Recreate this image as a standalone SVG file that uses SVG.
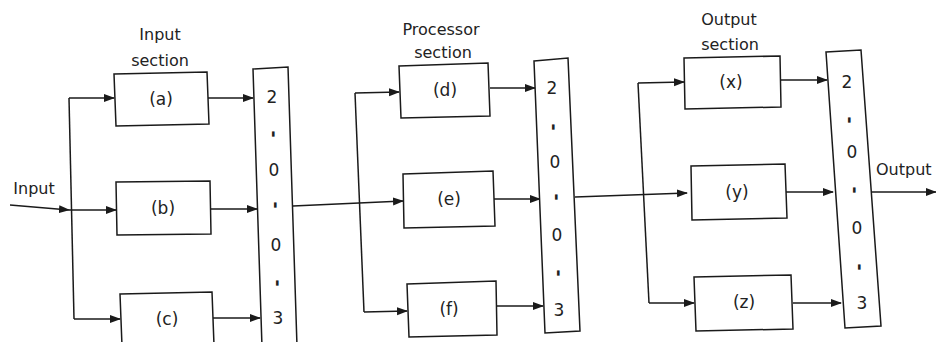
<svg xmlns="http://www.w3.org/2000/svg" width="936" height="342" viewBox="0 0 936 342">
<style>
.bx{fill:#fff;stroke:#1a1a1a;stroke-width:1.5}
.ln{fill:none;stroke:#1a1a1a;stroke-width:1.5}
.ar{fill:none;stroke:#1a1a1a;stroke-width:1.5;marker-end:url(#ah)}
.t{font-family:"DejaVu Sans","Liberation Sans",sans-serif;font-size:16px;fill:#222;text-anchor:middle}
.b{font-family:"DejaVu Sans","Liberation Sans",sans-serif;font-size:17px;fill:#222;text-anchor:middle}
.d{font-family:"DejaVu Sans","Liberation Sans",sans-serif;font-size:17px;fill:#222;text-anchor:middle}
.s{font-family:"DejaVu Sans","Liberation Sans",sans-serif;font-size:17px;fill:#222;text-anchor:middle;font-weight:bold}
</style>
<defs>
<marker id="ah" markerWidth="12" markerHeight="10" refX="10" refY="5" orient="auto" markerUnits="userSpaceOnUse">
<path d="M0,1 L11,5 L0,9 Z" fill="#1a1a1a"/>
</marker>
</defs>
<rect width="936" height="342" fill="#fff"/>

<g id="connectors">
<path class="ar" d="M10,205 L69,210"/>
<path class="ln" d="M69,98 L74,319"/>
<path class="ar" d="M69,98 L114,98"/>
<path class="ar" d="M69,210 L116,210"/>
<path class="ar" d="M74,319 L120,319"/>
<path class="ar" d="M208,98 L253,98"/>
<path class="ar" d="M211,209 L257,209"/>
<path class="ar" d="M213,318 L260,318"/>
<path class="ar" d="M293,206 L403,201"/>
<path class="ln" d="M355,93 L364,312"/>
<path class="ar" d="M355,93 L399,92"/>
<path class="ar" d="M364,312 L407,311"/>
<path class="ar" d="M490,88 L535,88"/>
<path class="ar" d="M494,199 L540,199"/>
<path class="ar" d="M497,306 L543,306"/>
<path class="ar" d="M575,197 L687,193"/>
<path class="ln" d="M638,83 L649,303"/>
<path class="ar" d="M638,83 L684,82"/>
<path class="ar" d="M649,303 L694,303"/>
<path class="ar" d="M781,80 L827,80"/>
<path class="ar" d="M786,192 L833,192"/>
<path class="ar" d="M793,303 L841,303"/>
<path class="ar" d="M872,192 L936,192"/>
</g>

<g id="labels">
<text class="t" x="34" y="194">Input</text>
<text class="t" x="160" y="40">Input</text>
<text class="t" x="160" y="66">section</text>
<text class="t" x="441" y="35">Processor</text>
<text class="t" x="443" y="58">section</text>
<text class="t" x="729" y="25">Output</text>
<text class="t" x="730" y="50">section</text>
<text class="t" x="876" y="175" style="text-anchor:start">Output</text>
</g>

<g id="node-a"><polygon class="bx" points="114,74 207,72 209,124 116,126"/><text class="b" x="161" y="105">(a)</text></g>
<g id="node-b"><polygon class="bx" points="116,182 210,181 211,234 117,235"/><text class="b" x="163" y="214">(b)</text></g>
<g id="node-c"><polygon class="bx" points="120,294 212,292 214,345 122,346"/><text class="b" x="167" y="325">(c)</text></g>

<g id="vote-1">
<polygon class="bx" points="253,69 288,67 297,346 262,347"/>
<text class="d" x="272" y="103">2</text>
<text class="s" x="273" y="139" transform="rotate(90 273 134)">-</text>
<text class="d" x="274" y="176">0</text>
<text class="s" x="275" y="210" transform="rotate(90 275 205)">-</text>
<text class="d" x="276" y="251">0</text>
<text class="s" x="277" y="288" transform="rotate(90 277 283)">-</text>
<text class="d" x="278" y="324">3</text>
</g>

<g id="node-d"><polygon class="bx" points="399,66 488,63 490,116 401,118"/><text class="b" x="445" y="96">(d)</text></g>
<g id="node-e"><polygon class="bx" points="403,174 493,171 495,226 404,228"/><text class="b" x="449" y="205">(e)</text></g>
<g id="node-f"><polygon class="bx" points="407,284 496,281 497,335 409,337"/><text class="b" x="449" y="315">(f)</text></g>

<g id="vote-2">
<polygon class="bx" points="534,61 568,58 580,331 545,333"/>
<text class="d" x="552" y="94">2</text>
<text class="s" x="553" y="132" transform="rotate(90 553 127)">-</text>
<text class="d" x="555" y="168">0</text>
<text class="s" x="556" y="202" transform="rotate(90 556 197)">-</text>
<text class="d" x="557" y="241">0</text>
<text class="s" x="558" y="278" transform="rotate(90 558 273)">-</text>
<text class="d" x="559" y="316">3</text>
</g>

<g id="node-x"><polygon class="bx" points="684,58 780,56 781,107 685,109"/><text class="b" x="731" y="88">(x)</text></g>
<g id="node-y"><polygon class="bx" points="691,166 785,164 787,218 692,220"/><text class="b" x="737" y="198">(y)</text></g>
<g id="node-z"><polygon class="bx" points="694,277 791,275 793,329 696,331"/><text class="b" x="744" y="308">(z)</text></g>

<g id="vote-3">
<polygon class="bx" points="826,52 861,50 881,326 845,328"/>
<text class="d" x="847" y="88">2</text>
<text class="s" x="849" y="125" transform="rotate(90 849 120)">-</text>
<text class="d" x="852" y="158">0</text>
<text class="s" x="854" y="195" transform="rotate(90 854 190)">-</text>
<text class="d" x="857" y="234">0</text>
<text class="s" x="859" y="272" transform="rotate(90 859 267)">-</text>
<text class="d" x="862" y="309">3</text>
</g>
</svg>
